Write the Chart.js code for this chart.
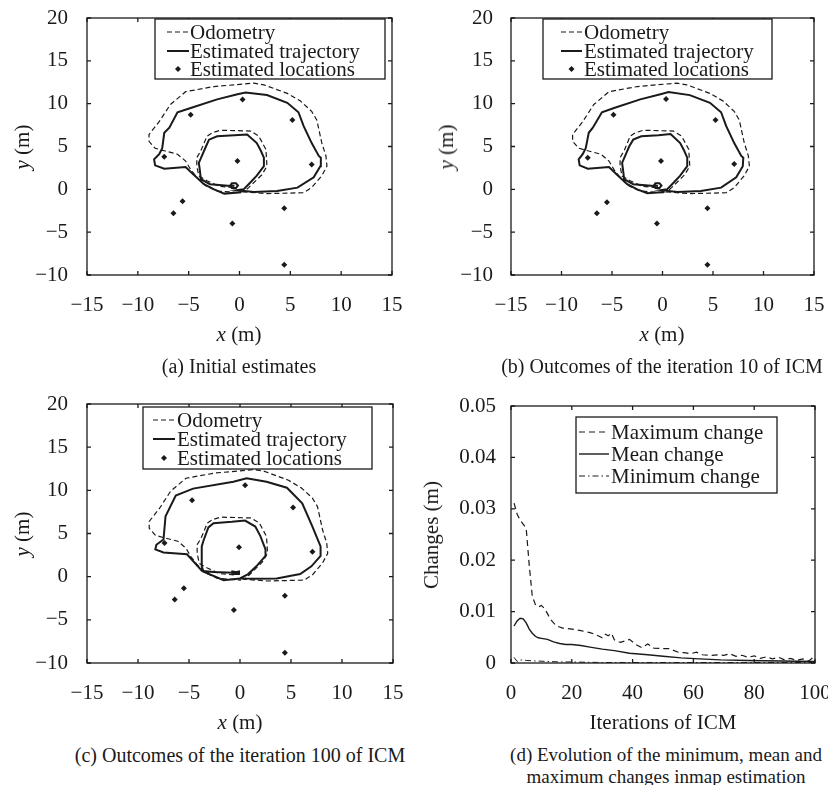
<!DOCTYPE html>
<html>
<head>
<meta charset="utf-8">
<script src="https://cdn.jsdelivr.net/npm/chart.js@4.4.0/dist/chart.umd.min.js"></script>
<style>
  body { margin: 0; background: #fff; width: 828px; height: 785px; position: relative; overflow: hidden;
         font-family: "Liberation Serif", "DejaVu Serif", serif; color: #1a1a1a; }
  canvas { position: absolute; }
  .t { position: absolute; white-space: nowrap; line-height: 24px; transform: translate(-50%, -50%); }
  .ax { font-size: 21px; }
  .cap { font-size: 20px; text-align: center; line-height: 22px; }
  .rot { transform: translate(-50%, -50%) rotate(-90deg); }
</style>
</head>
<body>
<canvas id="ca" width="414" height="350" style="left:0;top:0"></canvas>
<canvas id="cb" width="414" height="350" style="left:414px;top:0"></canvas>
<canvas id="cc" width="414" height="350" style="left:0;top:386px"></canvas>
<canvas id="cd" width="414" height="350" style="left:414px;top:386px"></canvas>

<div class="t ax" style="left:239px;top:334px"><i>x</i> (m)</div>
<div class="t ax rot" style="left:22px;top:147px"><i>y</i> (m)</div>
<div class="t cap" style="left:239px;top:366px">(a) Initial estimates</div>

<div class="t ax" style="left:662px;top:334px"><i>x</i> (m)</div>
<div class="t ax rot" style="left:446px;top:147px"><i>y</i> (m)</div>
<div class="t cap" style="left:662px;top:366px">(b) Outcomes of the iteration 10 of ICM</div>

<div class="t ax" style="left:240px;top:722px"><i>x</i> (m)</div>
<div class="t ax rot" style="left:22px;top:534px"><i>y</i> (m)</div>
<div class="t cap" style="left:240px;top:755px">(c) Outcomes of the iteration 100 of ICM</div>

<div class="t ax" style="left:663px;top:722px">Iterations of ICM</div>
<div class="t ax rot" style="left:431px;top:535px">Changes (m)</div>
<div class="t cap" style="left:666px;top:766px;font-size:19px">(d) Evolution of the minimum, mean and<br>maximum changes inmap estimation</div>

<script>
// raw odometry, same in (a)-(c)
const odometry = [
  [-0.6,0.2],[-2.0,0.35],[-3.2,1.0],[-4.0,1.55],[-4.2,2.7],[-4.2,3.7],[-3.8,4.5],[-3.2,6.2],[-2.7,6.6],
  [-1.9,6.9],[1.1,6.8],[1.9,6.2],[2.6,4.65],[2.7,2.7],[2.2,1.7],[0.9,0.2],[0.4,-0.3],[2.7,-0.5],[6.3,-0.4],
  [7.1,0.2],[8.1,1.6],[8.6,2.7],[8.5,3.9],[8.1,5.4],[7.6,8.1],[7.1,9.1],[6.0,10.3],[4.7,11.2],[2.4,12.2],
  [1.4,12.4],[-2.5,12.0],[-5.3,11.4],[-6.8,9.9],[-7.9,7.9],[-8.9,6.4],[-8.9,5.6],[-8.3,4.8],[-7.4,4.5],
  [-6.1,4.1],[-5.3,3.3],[-4.8,2.3],[-4.2,1.4],[-3.3,0.4],[-2.2,-0.2],[0.1,-0.4]
];

// estimated trajectory, initial
const trajA = [
  [-0.5,0.4],[-0.9,0.45],[-0.75,0.7],[-0.35,0.7],[-0.15,0.45],[-0.35,0.15],[-0.75,0.15],[-0.9,0.4],
  [-2.0,0.5],[-2.9,0.6],[-3.8,1.2],[-3.9,2.2],[-4.0,3.1],[-3.7,3.9],[-3.3,5.0],[-3.0,5.8],[-2.2,6.2],
  [-0.5,6.3],[0.75,6.4],[1.7,5.4],[2.1,4.5],[2.4,3.7],[2.4,2.7],[1.7,1.6],[0.9,0.6],[0.4,0.0],[-0.2,-0.1],
  [1.4,-0.3],[3.7,-0.2],[5.7,0.2],[7.3,1.4],[7.95,2.7],[8.0,3.7],[7.8,3.9],[7.1,5.4],[6.3,7.4],[5.8,9.0],
  [4.7,10.1],[2.7,11.0],[0.6,11.3],[-0.2,11.1],[-2.2,10.5],[-4.8,9.5],[-6.1,9.0],[-6.9,7.2],[-7.4,6.6],
  [-7.6,4.8],[-7.9,4.1],[-8.4,3.5],[-8.3,2.8],[-7.4,2.4],[-5.3,2.6],[-4.5,1.7],[-3.5,0.6],[-2.5,0.0],
  [-1.5,-0.5],[0.2,-0.35]
];
// after iteration 10
const trajB = [
  [-0.45,0.4],[-0.85,0.45],[-0.7,0.7],[-0.3,0.7],[-0.1,0.45],[-0.3,0.15],[-0.7,0.15],[-0.85,0.4],
  [-2.0,0.5],[-2.9,0.6],[-3.8,1.2],[-3.9,2.2],[-4.0,3.1],[-3.7,3.9],[-3.3,5.0],[-2.9,5.8],[-2.1,6.2],
  [-0.4,6.3],[0.8,6.45],[1.75,5.4],[2.15,4.5],[2.45,3.7],[2.45,2.7],[1.75,1.6],[0.95,0.6],[0.45,0.0],
  [-0.1,-0.1],[1.5,-0.3],[3.8,-0.2],[5.8,0.2],[7.3,1.4],[7.95,2.7],[8.0,3.7],[7.8,3.9],[7.1,5.4],
  [6.3,7.4],[5.8,9.0],[4.7,10.1],[2.7,11.0],[0.6,11.35],[-0.2,11.1],[-2.2,10.5],[-4.8,9.5],[-6.0,9.0],
  [-6.9,7.2],[-7.3,6.6],[-7.6,4.8],[-7.9,4.1],[-8.3,3.5],[-8.2,2.8],[-7.4,2.4],[-5.3,2.6],[-4.5,1.7],
  [-3.5,0.6],[-2.5,0.0],[-1.5,-0.45],[0.2,-0.3]
];
// after iteration 100
const trajC = [
  [-0.3,0.5],[-0.75,0.6],[-0.75,0.3],[-0.1,0.3],[-0.1,0.6],[-0.65,0.45],[-2.6,0.55],[-3.6,0.65],
  [-3.75,1.2],[-3.75,3.5],[-3.6,4.1],[-3.1,5.7],[-2.6,6.2],[-0.8,6.35],[0.5,6.5],[1.5,5.8],[2.0,4.7],
  [2.5,3.15],[2.5,2.4],[1.6,1.2],[0.8,0.3],[0.0,-0.2],[1.5,-0.25],[3.6,-0.2],[5.9,0.3],[7.0,1.2],
  [7.9,2.4],[7.9,3.5],[7.1,5.8],[6.1,8.5],[4.6,10.3],[2.6,11.0],[0.65,11.4],[-0.65,11.0],[-4.6,10.2],
  [-6.3,9.4],[-7.3,7.0],[-7.5,4.3],[-8.2,3.7],[-8.3,3.15],[-7.5,2.8],[-5.2,2.6],[-3.7,0.65],[-1.6,-0.4],
  [0.0,-0.2]
];

// estimated landmark locations
const locA = [[0.3,10.5],[-4.8,8.7],[5.2,8.1],[-7.4,3.8],[-0.2,3.3],[7.1,2.9],[-5.6,-1.4],[-6.5,-2.8],[4.4,-2.2],[-0.7,-4.0],[4.4,-8.8]];
const locB = [[0.35,10.55],[-4.85,8.7],[5.25,8.1],[-7.4,3.7],[-0.15,3.3],[7.1,2.95],[-5.5,-1.5],[-6.5,-2.8],[4.45,-2.2],[-0.55,-4.0],[4.45,-8.8]];
const locC = [[0.5,10.6],[-4.7,8.85],[5.2,8.0],[-7.4,3.9],[-0.1,3.4],[7.1,2.9],[-5.5,-1.35],[-6.4,-2.65],[4.4,-2.2],[-0.6,-3.85],[4.4,-8.8]];

// (d) changes per ICM iteration
const maxIter = [1,2,3,4,5,6,7,8,9,10,11,12,13,14,15,17,20,23,26,28,30,31,32,33,34,36,38,39,41,43,45,47,50,52,55,57,59,61,63,66,68,70,72,74,76,78,80,82,84,86,88,90,92,94,96,98,99,100];
const maxVal  = [0.0311,0.0290,0.0278,0.0270,0.0262,0.0190,0.0130,0.0114,0.0109,0.0112,0.0106,0.0096,0.0085,0.0078,0.0072,0.0068,0.0066,0.0063,0.0059,0.0055,0.0049,0.0056,0.0053,0.0058,0.0045,0.0040,0.0044,0.0046,0.0036,0.0030,0.0037,0.0029,0.0028,0.0028,0.0021,0.0020,0.0018,0.0021,0.0016,0.0015,0.0016,0.0015,0.0018,0.0013,0.0015,0.0011,0.0014,0.0009,0.0012,0.0008,0.0011,0.0006,0.0009,0.0005,0.0008,0.0004,0.0009,0.0005];
const meanIter = [1,2,3,4,5,6,7,8,9,10,12,14,16,18,20,23,26,30,34,39,45,50,56,62,69,78,89,100];
const meanVal  = [0.0072,0.0082,0.0087,0.0086,0.0078,0.0066,0.0058,0.0052,0.0049,0.0048,0.0046,0.0041,0.0038,0.0036,0.0036,0.0034,0.0031,0.0027,0.0024,0.0019,0.0016,0.0013,0.0010,0.0008,0.0006,0.0005,0.0004,0.0003];
const minIter = [1,2,3,5,8,12,16,20,30,40,50,60,70,80,90,100];
const minVal  = [0.0011,0.0003,0.0006,0.0005,0.0004,0.0003,0.0002,0.0002,0.0001,0.0001,0.0001,0.0001,0.0001,0.0001,0.0001,0.0001];

const INK = '#1a1a1a';
Chart.defaults.font.family = '"Liberation Serif", "DejaVu Serif", serif';
Chart.defaults.color = INK;

const pts = arr => arr.map(([x, y]) => ({x, y}));
const zip = (xs, ys) => xs.map((x, i) => ({x, y: ys[i]}));
const minus = v => v < 0 ? '\u2212' + Math.abs(v) : String(v);

// MATLAB style box with inward ticks on all four sides
const frame = {
  id: 'frame',
  afterDatasetsDraw(chart) {
    const {ctx, chartArea: a, scales: {x, y}} = chart;
    ctx.save();
    ctx.strokeStyle = INK;
    ctx.lineWidth = 1.3;
    ctx.strokeRect(a.left, a.top, a.right - a.left, a.bottom - a.top);
    ctx.beginPath();
    x.ticks.forEach(t => {
      const p = x.getPixelForValue(t.value);
      ctx.moveTo(p, a.bottom); ctx.lineTo(p, a.bottom - 4);
      ctx.moveTo(p, a.top); ctx.lineTo(p, a.top + 4);
    });
    y.ticks.forEach(t => {
      const p = y.getPixelForValue(t.value);
      ctx.moveTo(a.left, p); ctx.lineTo(a.left + 4, p);
      ctx.moveTo(a.right, p); ctx.lineTo(a.right - 4, p);
    });
    ctx.stroke();
    ctx.restore();
  }
};

// boxed legend inside the plot
const boxLegend = {
  id: 'boxLegend',
  afterDraw(chart, args, o) {
    if (!o || o.x === undefined) return;
    const ctx = chart.ctx;
    ctx.save();
    ctx.fillStyle = '#fff';
    ctx.fillRect(o.x, o.y, o.w, o.h);
    ctx.strokeStyle = INK;
    ctx.lineWidth = 1.3;
    ctx.strokeRect(o.x, o.y, o.w, o.h);
    ctx.font = '21px "Liberation Serif"';
    ctx.textBaseline = 'middle';
    ctx.fillStyle = INK;
    chart.data.datasets.forEach((ds, i) => {
      const cy = o.rows[i];
      if (ds.showLine) {
        ctx.setLineDash(ds.borderDash || []);
        ctx.lineWidth = ds.borderWidth;
        ctx.beginPath();
        ctx.moveTo(o.x0, cy);
        ctx.lineTo(o.x1, cy);
        ctx.stroke();
        ctx.setLineDash([]);
      } else {
        const cx = (o.x0 + o.x1) / 2, r = 3;
        ctx.beginPath();
        ctx.moveTo(cx, cy - r); ctx.lineTo(cx + r, cy); ctx.lineTo(cx, cy + r); ctx.lineTo(cx - r, cy);
        ctx.closePath();
        ctx.fill();
      }
      ctx.fillText(ds.label, o.tx, cy + 1);
    });
    ctx.restore();
  }
};

function makeChart(id, datasets, g) {
  return new Chart(document.getElementById(id), {
    type: 'scatter',
    data: {datasets},
    options: {
      responsive: false,
      animation: false,
      layout: {padding: {left: 0, top: g.top, right: 414 - g.right, bottom: 0}},
      plugins: {legend: {display: false}, tooltip: {enabled: false}, boxLegend: g.legend},
      scales: {
        x: {
          type: 'linear', min: g.xMin, max: g.xMax,
          ticks: {stepSize: g.xStep, padding: 18, font: {size: 21}, color: INK, callback: g.fmtX},
          grid: {display: false, drawTicks: false}, border: {display: false},
          afterFit: s => { s.height = 350 - g.bottom; s.paddingLeft = 0; s.paddingRight = 0; }
        },
        y: {
          type: 'linear', min: g.yMin, max: g.yMax,
          ticks: {stepSize: g.yStep, padding: g.yPad, font: {size: 21}, color: INK, callback: g.fmtY},
          grid: {display: false, drawTicks: false}, border: {display: false},
          afterFit: s => { s.width = g.left; s.paddingTop = 0; s.paddingBottom = 0; }
        }
      }
    },
    plugins: [frame, boxLegend]
  });
}

function mapSets(traj, loc) {
  return [
    {label: 'Odometry', data: pts(odometry), showLine: true, borderColor: INK, borderWidth: 1.2,
     borderDash: [5, 3], pointRadius: 0, tension: 0},
    {label: 'Estimated trajectory', data: pts(traj), showLine: true, borderColor: INK, borderWidth: 2,
     pointRadius: 0, tension: 0},
    {label: 'Estimated locations', data: pts(loc), showLine: false, pointStyle: 'rectRot', pointRadius: 3,
     backgroundColor: INK, borderWidth: 0}
  ];
}

const mapAxes = {xMin: -15, xMax: 15, xStep: 5, yMin: -10, yMax: 20, yStep: 5, fmtX: minus, fmtY: minus};

makeChart('ca', mapSets(trajA, locA), Object.assign({}, mapAxes, {
  left: 87, right: 392, top: 18, bottom: 275, yPad: 19,
  legend: {x: 155, y: 19, w: 230, h: 60, x0: 167, x1: 189, tx: 190, rows: [32, 51, 69]}
}));
makeChart('cb', mapSets(trajB, locB), Object.assign({}, mapAxes, {
  left: 97, right: 400, top: 18, bottom: 275, yPad: 18,
  legend: {x: 129, y: 19, w: 229, h: 60, x0: 147, x1: 168, tx: 170, rows: [32, 51, 69]}
}));
makeChart('cc', mapSets(trajC, locC), Object.assign({}, mapAxes, {
  left: 87, right: 393, top: 18, bottom: 277, yPad: 19,
  legend: {x: 143, y: 21, w: 229, h: 62, x0: 153, x1: 175, tx: 177, rows: [34, 53, 72]}
}));

makeChart('cd', [
  {label: 'Maximum change', data: zip(maxIter, maxVal), showLine: true, borderColor: INK, borderWidth: 1.2,
   borderDash: [6, 4], pointRadius: 0, tension: 0},
  {label: 'Mean change', data: zip(meanIter, meanVal), showLine: true, borderColor: INK, borderWidth: 1.4,
   pointRadius: 0, tension: 0},
  {label: 'Minimum change', data: zip(minIter, minVal), showLine: true, borderColor: INK, borderWidth: 1,
   borderDash: [6, 3, 1.5, 3], pointRadius: 0, tension: 0}
], {
  xMin: 0, xMax: 100, xStep: 20, yMin: 0, yMax: 0.05, yStep: 0.01,
  fmtX: v => String(v), fmtY: v => v === 0 ? '0' : v.toFixed(2),
  left: 97, right: 401, top: 20, bottom: 277, yPad: 15,
  legend: {x: 162, y: 31, w: 201, h: 76, x0: 165, x1: 195, tx: 197, rows: [46, 68, 90]}
});
</script>
</body>
</html>
